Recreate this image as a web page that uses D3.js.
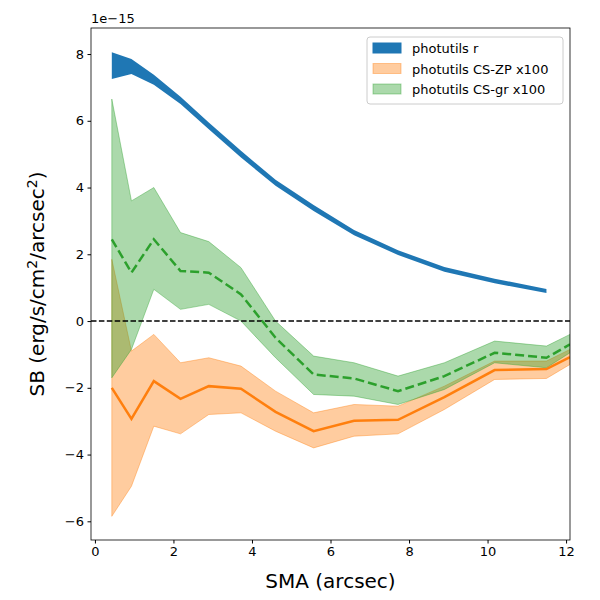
<!DOCTYPE html>
<html><head><meta charset="utf-8">
<script src="https://cdn.jsdelivr.net/npm/d3@7"></script>
<style>body{margin:0;background:#fff;font-family:"DejaVu Sans",sans-serif}</style>
</head><body>
<div id="chart"></div>
<script>
var sma = [0.43, 0.93, 1.5, 2.18, 2.9, 3.72, 4.6, 5.57, 6.6, 7.72, 8.9, 10.18, 11.5, 12.1];
var rLo = [7.25, 7.4, 7.08, 6.5, 5.75, 4.9, 4.05, 3.3, 2.57, 1.98, 1.48, 1.13, 0.84];
var rHi = [8.05, 7.85, 7.38, 6.72, 5.95, 5.1, 4.23, 3.48, 2.73, 2.12, 1.62, 1.27, 0.96];
var zpMid = [-2.0, -2.93, -1.8, -2.33, -1.95, -2.03, -2.72, -3.3, -2.99, -2.96, -2.28, -1.47, -1.44, -1.08];
var zpHi = [1.85, -0.9, -0.4, -1.25, -1.1, -1.35, -2.1, -2.75, -2.5, -2.55, -1.95, -1.2, -1.2, -0.85];
var zpLo = [-5.85, -4.95, -3.15, -3.38, -2.8, -2.75, -3.3, -3.8, -3.45, -3.38, -2.65, -1.75, -1.72, -1.3];
var grMid = [2.45, 1.45, 2.45, 1.5, 1.45, 0.8, -0.5, -1.6, -1.72, -2.1, -1.65, -0.95, -1.1, -0.7];
var grHi = [6.65, 3.6, 4.0, 2.65, 2.38, 1.6, 0.0, -1.05, -1.25, -1.65, -1.25, -0.6, -0.75, -0.4];
var grLo = [-1.7, -0.85, 0.95, 0.35, 0.5, 0.0, -1.1, -2.2, -2.25, -2.5, -2.05, -1.25, -1.4, -0.95];
var xTicks = [0, 2, 4, 6, 8, 10, 12];
var yTicks = [-6, -4, -2, 0, 2, 4, 6, 8];

var width = 600, height = 600;
var m = {left: 91, right: 30, top: 28, bottom: 60};
var x = d3.scaleLinear().domain([-0.1, 12.1]).range([m.left, width - m.right]);
var y = d3.scaleLinear().domain([-6.56, 8.78]).range([height - m.bottom, m.top]);

var svg = d3.select("#chart").append("svg").attr("width", width).attr("height", height);
svg.append("defs").append("clipPath").attr("id", "clip").append("rect")
  .attr("x", m.left).attr("y", m.top).attr("width", width - m.left - m.right).attr("height", height - m.top - m.bottom);

var plot = svg.append("g").attr("clip-path", "url(#clip)");
function band(lo, hi) {
  return d3.area().x((d, i) => x(sma[i])).y0((d, i) => y(lo[i])).y1((d, i) => y(hi[i]))(lo);
}
var line = arr => d3.line().x((d, i) => x(sma[i])).y(d => y(d))(arr);

plot.append("path").attr("d", band(rLo, rHi)).attr("fill", "#1f77b4");
plot.append("path").attr("d", band(zpLo, zpHi)).attr("fill", "#ff7f0e").attr("fill-opacity", 0.4)
  .attr("stroke", "#ff7f0e").attr("stroke-opacity", 0.4);
plot.append("path").attr("d", band(grLo, grHi)).attr("fill", "#2ca02c").attr("fill-opacity", 0.4)
  .attr("stroke", "#2ca02c").attr("stroke-opacity", 0.4);
plot.append("line").attr("x1", m.left).attr("x2", width - m.right).attr("y1", y(0)).attr("y2", y(0))
  .attr("stroke", "#000").attr("stroke-width", 1.5).attr("stroke-dasharray", "5.5,2.4");
plot.append("path").attr("d", line(zpMid)).attr("fill", "none").attr("stroke", "#ff7f0e").attr("stroke-width", 2.5);
plot.append("path").attr("d", line(grMid)).attr("fill", "none").attr("stroke", "#2ca02c").attr("stroke-width", 2.5)
  .attr("stroke-dasharray", "9,4");

var xa = svg.append("g").attr("transform", `translate(0,${height - m.bottom})`)
  .call(d3.axisBottom(x).tickValues(xTicks).tickSize(3.5).tickPadding(3.5));
var ya = svg.append("g").attr("transform", `translate(${m.left},0)`)
  .call(d3.axisLeft(y).tickValues(yTicks).tickSize(3.5).tickPadding(3.5).tickFormat(d => d < 0 ? "\u2212" + (-d) : d));
[xa, ya].forEach(a => { a.selectAll("text").attr("font-size", 13).attr("font-family", "DejaVu Sans"); a.select(".domain").remove(); });
svg.append("rect").attr("x", m.left).attr("y", m.top).attr("width", width - m.left - m.right)
  .attr("height", height - m.top - m.bottom).attr("fill", "none").attr("stroke", "#000").attr("stroke-width", 0.8);

svg.append("text").attr("x", m.left).attr("y", m.top - 5).attr("font-size", 13).text("1e\u221215");
svg.append("text").attr("x", (m.left + width - m.right) / 2).attr("y", 588).attr("text-anchor", "middle")
  .attr("font-size", 20).text("SMA (arcsec)");
var yl = svg.append("text").attr("transform", `translate(44,${(m.top + height - m.bottom) / 2}) rotate(-90)`)
  .attr("text-anchor", "middle").attr("font-size", 20);
yl.append("tspan").text("SB (erg/s/cm");
yl.append("tspan").attr("dy", -7).attr("font-size", 14).text("2");
yl.append("tspan").attr("dy", 7).text("/arcsec");
yl.append("tspan").attr("dy", -7).attr("font-size", 14).text("2");
yl.append("tspan").attr("dy", 7).text(")");

var legItems = [
  {label: "photutils r", color: "#1f77b4", op: 1},
  {label: "photutils CS-ZP x100", color: "#ff7f0e", op: 0.4},
  {label: "photutils CS-gr x100", color: "#2ca02c", op: 0.4}
];
var lg = svg.append("g").attr("transform", "translate(367,37)");
lg.append("rect").attr("width", 196).attr("height", 67).attr("rx", 3).attr("fill", "#fff")
  .attr("fill-opacity", 0.8).attr("stroke", "#ccc");
legItems.forEach((d, i) => {
  var g = lg.append("g").attr("transform", `translate(6,${6 + i * 20.5})`);
  g.append("rect").attr("width", 28).attr("height", 10).attr("fill", d.color).attr("fill-opacity", d.op)
    .attr("stroke", d.color).attr("stroke-opacity", d.op);
  g.append("text").attr("x", 39).attr("y", 10).attr("font-size", 13).text(d.label);
});
</script>
</body></html>
